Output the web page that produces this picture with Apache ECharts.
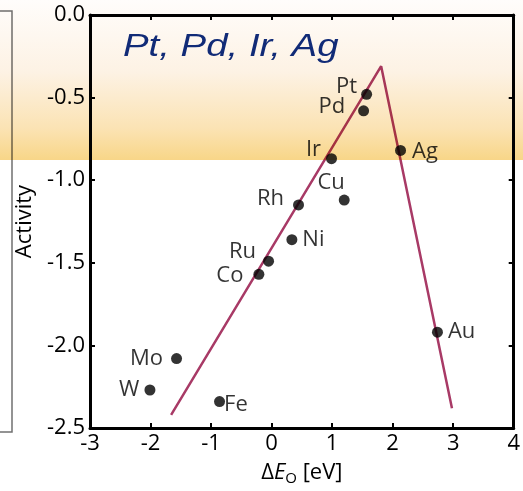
<!DOCTYPE html>
<html>
<head>
<meta charset="utf-8">
<script src="https://cdn.jsdelivr.net/npm/echarts@6/dist/echarts.min.js"></script>
<style>
html,body{margin:0;padding:0;background:#fff;}
#c{width:523px;height:491px;}
</style>
</head>
<body>
<div id="c"></div>
<script>
// ---- data ----
var metals   = ['Pt','Pd','Ir','Ag','Rh','Cu','Ni','Ru','Co','Au','Mo','W','Fe'];
var deltaEO  = [1.57, 1.52, 0.99, 2.13, 0.445, 1.20, 0.335, -0.05, -0.21, 2.74, -1.57, -2.01, -0.86];
var activity = [-0.48,-0.58,-0.87,-0.82,-1.15,-1.12,-1.36,-1.49,-1.57,-1.92,-2.08,-2.27,-2.34];
var volcanoX = [-1.66, 1.81, 2.98];
var volcanoY = [-2.42, -0.31, -2.38];
var xTicks = [-3,-2,-1,0,1,2,3,4];
var yTicks = [0.0,-0.5,-1.0,-1.5,-2.0,-2.5];
var highlightTitle = 'Pt, Pd, Ir, Ag';

// label placement (layout only)
var labelPlace = {
  Pt:['left',[1,-8]], Pd:['left',[-8,-4]], Ir:['left',[0,-9]], Ag:['right',[1,1]],
  Rh:['left',[-4,-6]], Cu:['left',[11,-17]], Ni:['right',[0,0]], Ru:['left',[-2,-9]],
  Co:['left',[-5,1]], Au:['right',[0,0]], Mo:['left',[-3,0]], W:['left',[0,0]], Fe:['right',[-6,3]]
};

var FONT = '"Open Sans", "Noto Sans", sans-serif';
var TXT = '#000';
var chart = echarts.init(document.getElementById('c'), null, {renderer:'canvas'});

var pts = metals.map(function(m,i){
  var p = labelPlace[m];
  return {name:m, value:[deltaEO[i], activity[i]],
          label:{position:p[0], offset:p[1]}};
});
var line = volcanoX.map(function(x,i){return [x, volcanoY[i]];});

var axisLine = {onZero:false, lineStyle:{color:'#000', width:3}};
var tickStyle = {inside:true, length:5, lineStyle:{color:'#000', width:2}};
var labelStyle = {color:TXT, fontSize:22, fontFamily:FONT};

chart.setOption({
  animation:false,
  backgroundColor:'#fff',
  grid:{left:90, right:4, top:15, bottom:60},
  xAxis:[{
    type:'value', min:xTicks[0], max:xTicks[xTicks.length-1], interval:1,
    axisLine:axisLine, axisTick:tickStyle, splitLine:{show:false},
    axisLabel:Object.assign({margin:5}, labelStyle),
    name:'{d|Δ}{e|E}{s|O}{d| [eV]}', nameLocation:'middle', nameGap:31,
    nameTextStyle:{rich:{
      d:{fontSize:22, fontFamily:FONT, color:TXT},
      e:{fontSize:22, fontFamily:FONT, fontStyle:'italic', color:TXT},
      s:{fontSize:15, fontFamily:FONT, color:TXT, verticalAlign:'bottom', padding:[12,0,0,0]}
    }}
  },{
    type:'value', position:'top', min:xTicks[0], max:xTicks[xTicks.length-1], interval:1,
    axisLine:axisLine, axisTick:tickStyle, axisLabel:{show:false}, splitLine:{show:false}
  }],
  yAxis:[{
    type:'value', min:yTicks[yTicks.length-1], max:yTicks[0], interval:0.5,
    axisLine:axisLine, axisTick:tickStyle, splitLine:{show:false},
    axisLabel:Object.assign({margin:5, formatter:function(v){return v.toFixed(1);}}, labelStyle),
    name:'Activity', nameLocation:'middle', nameGap:54,
    nameTextStyle:{fontSize:22, fontFamily:FONT, color:TXT}
  },{
    type:'value', position:'right', min:yTicks[yTicks.length-1], max:yTicks[0], interval:0.5,
    axisLine:axisLine, axisTick:tickStyle, axisLabel:{show:false}, splitLine:{show:false}
  }],
  series:[{
    type:'line', data:line, symbol:'none', z:3,
    lineStyle:{color:'#a83a66', width:2.5}
  },{
    type:'scatter', data:pts, symbolSize:11, z:4,
    itemStyle:{color:'#000'},
    label:{show:true, formatter:'{b}', color:TXT, fontSize:22, fontFamily:FONT, distance:5}
  }],
  graphic:[{
    type:'rect', z:1, silent:true,
    shape:{x:-10, y:11, width:22, height:421},
    style:{fill:'none', stroke:'#707070', lineWidth:1.5}
  },{
    type:'rect', z:100, silent:true,
    shape:{x:0, y:0, width:523, height:160},
    style:{
      blend:'multiply',
      fill:new echarts.graphic.LinearGradient(0,0,0,1,[
        {offset:0, color:'#fffdfb'},
        {offset:0.45, color:'#fdf2e4'},
        {offset:0.8, color:'#fbe3b4'},
        {offset:1, color:'#f8d688'}
      ])
    }
  },{
    type:'text', z:101, silent:true, x:123, y:31, scaleX:1.2,
    style:{text:highlightTitle, fill:'#112b77', textVerticalAlign:'top',
           font:'italic 32px "Liberation Sans", Arial, sans-serif'}
  }]
});
</script>
</body>
</html>
